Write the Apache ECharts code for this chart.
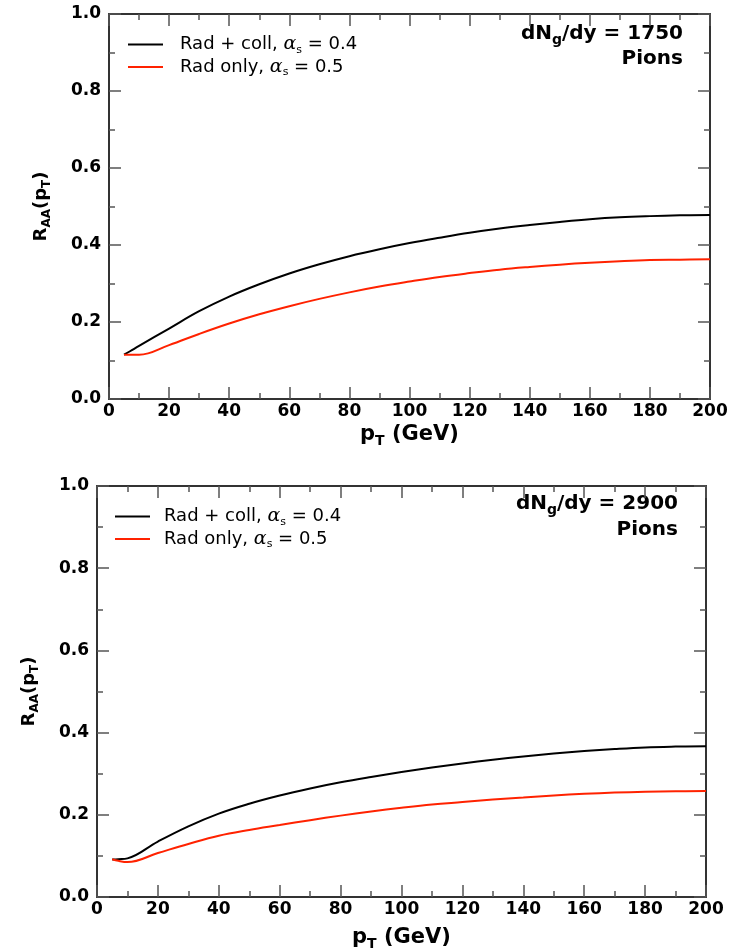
<!DOCTYPE html>
<html>
<head>
<meta charset="utf-8">
<script src="https://cdn.jsdelivr.net/npm/echarts@6/dist/echarts.min.js"></script>
<style>
  html, body { margin: 0; padding: 0; background: #fff; }
  #chart { width: 742px; height: 952px; }
</style>
</head>
<body>
<div id="chart"></div>
<script>
// pT values (GeV) shared by the curves of each panel
const ptTop = [5, 7, 10, 20, 30, 40, 50, 60, 70, 80, 90, 100, 110, 120, 130, 140, 150, 160, 170, 180, 190, 200];
const topRadColl = [0.115, 0.124, 0.138, 0.183, 0.228, 0.266, 0.298, 0.326, 0.350, 0.371, 0.389, 0.405, 0.419, 0.432, 0.443, 0.452, 0.460, 0.467, 0.472, 0.475, 0.477, 0.478];
const topRadOnly = [0.115, 0.115, 0.115, 0.140, 0.169, 0.196, 0.220, 0.241, 0.260, 0.277, 0.292, 0.305, 0.317, 0.327, 0.336, 0.343, 0.349, 0.354, 0.358, 0.361, 0.362, 0.363];

const ptBot = [5, 7, 10, 20, 30, 40, 50, 60, 70, 80, 90, 100, 110, 120, 130, 140, 150, 160, 170, 180, 190, 200];
const botRadColl = [0.091, 0.092, 0.094, 0.135, 0.172, 0.203, 0.227, 0.247, 0.264, 0.279, 0.292, 0.304, 0.315, 0.325, 0.334, 0.342, 0.349, 0.355, 0.360, 0.364, 0.366, 0.367];
const botRadOnly = [0.092, 0.088, 0.085, 0.107, 0.129, 0.149, 0.163, 0.175, 0.187, 0.198, 0.208, 0.217, 0.225, 0.231, 0.237, 0.242, 0.247, 0.251, 0.254, 0.256, 0.257, 0.258];

const seriesNames = ['Rad + coll, {a|α}{s|s} = 0.4', 'Rad only, {a|α}{s|s} = 0.5'];
const panelLabels = ['1750', '2900'];

const FONT = '"DejaVu Sans", "Liberation Sans", sans-serif';
const AX = '#333';
const TICK = '#555';

function pairs(xs, ys) { return xs.map((x, i) => [x, ys[i]]); }

const grids = [
  { left: 109, top: 14, width: 601, height: 385 },
  { left: 97, top: 486, width: 609, height: 419 }
];

const xAxes = [], yAxes = [];
grids.forEach((g, gi) => {
  const tickStyle = {
    axisLine: { onZero: false, lineStyle: { color: AX, width: 2 } },
    axisTick: { inside: true, length: 12, lineStyle: { color: TICK, width: 1.5 } },
    minorTick: { show: true, splitNumber: 2, length: 6, lineStyle: { color: TICK, width: 1.5 } },
    splitLine: { show: false }
  };
  const xc = Object.assign({ gridIndex: gi, type: 'value', min: 0, max: 200, interval: 20 }, tickStyle);
  xAxes.push(Object.assign({}, xc, {
    position: 'bottom',
    name: '{b|p}{t|T}{b| (GeV)}', nameLocation: 'middle', nameGap: gi === 0 ? 22 : 27,
    nameTextStyle: {
      rich: {
        b: { fontFamily: FONT, fontWeight: 'bold', fontSize: 21, color: '#000' },
        t: { fontFamily: FONT, fontWeight: 'bold', fontSize: 14, color: '#000', padding: [13, 0, 0, 0] }
      }
    },
    axisLabel: { fontFamily: FONT, fontWeight: 'bold', fontSize: 17, color: '#000', margin: 4 }
  }));
  xAxes.push(Object.assign({}, xc, { position: 'top', axisLabel: { show: false } }));

  const yc = Object.assign({ gridIndex: gi, type: 'value', min: 0, max: 1, interval: 0.2 }, tickStyle);
  yAxes.push(Object.assign({}, yc, {
    position: 'left',
    name: '{b|R}{t|AA}{b|(p}{t|T}{b|)}', nameLocation: 'middle', nameGap: gi === 0 ? 56 : 56, nameRotate: 90,
    nameTextStyle: {
      rich: {
        b: { fontFamily: FONT, fontWeight: 'bold', fontSize: 18, color: '#000' },
        t: { fontFamily: FONT, fontWeight: 'bold', fontSize: 12, color: '#000', padding: [11, 0, 0, 0] }
      }
    },
    axisLabel: { fontFamily: FONT, fontWeight: 'bold', fontSize: 17, color: '#000', margin: 8,
      formatter: v => v.toFixed(1) }
  }));
  yAxes.push(Object.assign({}, yc, { position: 'right', axisLabel: { show: false } }));
});

const data = [
  [pairs(ptTop, topRadColl), pairs(ptTop, topRadOnly)],
  [pairs(ptBot, botRadColl), pairs(ptBot, botRadOnly)]
];
const colors = ['#000000', '#ff2200'];
const series = [];
data.forEach((panel, gi) => {
  panel.forEach((d, si) => {
    series.push({
      name: seriesNames[si] + ' ' + gi,
      type: 'line', xAxisIndex: gi * 2, yAxisIndex: gi * 2,
      data: d, smooth: 0.4, symbol: 'none',
      lineStyle: { color: colors[si], width: 2 }, itemStyle: { color: colors[si] },
      silent: true
    });
  });
});

const legendRich = {
  n: { fontFamily: FONT, fontSize: 18, color: '#000' },
  a: { fontFamily: '"DejaVu Serif", serif', fontStyle: 'italic', fontSize: 19, color: '#000' },
  s: { fontFamily: FONT, fontSize: 11, color: '#000', padding: [11, 0, 0, 0] }
};
const legends = [
  { left: 123, top: 30, pad: 12 },
  { left: 110, top: 502, pad: 9 }
].map((p, gi) => ({
  left: p.left, top: p.top, orient: 'vertical', itemGap: 2,
  itemWidth: 35, itemHeight: 2, icon: 'rect',
  data: seriesNames.map(n => n + ' ' + gi),
  formatter: name => '{n|' + name.slice(0, -2).replace(/\{a\|/, '}{a|').replace(/\{s\|s\}/, '{s|s}{n|') + '}',
  textStyle: { rich: legendRich, padding: [0, 0, 0, p.pad] },
  selectedMode: false
}));

const annRich = {
  b: { fontFamily: FONT, fontWeight: 'bold', fontSize: 20, color: '#000' },
  g: { fontFamily: FONT, fontWeight: 'bold', fontSize: 14, color: '#000', padding: [12, 0, 0, 0] }
};
const graphic = [
  { right: 59, top: 24, label: panelLabels[0], y2: 49 },
  { right: 64, top: 494, label: panelLabels[1], y2: 520 }
].flatMap(a => [
  { type: 'text', right: a.right, top: a.top,
    style: { text: '{b|dN}{g|g}{b|/dy = ' + a.label + '}', rich: annRich } },
  { type: 'text', right: a.right, top: a.y2,
    style: { text: 'Pions', font: 'bold 20px ' + FONT, fill: '#000' } }
]);

const chart = echarts.init(document.getElementById('chart'));
chart.setOption({
  animation: false,
  backgroundColor: '#fff',
  grid: grids,
  xAxis: xAxes,
  yAxis: yAxes,
  legend: legends,
  series: series,
  graphic: graphic
});
</script>
</body>
</html>
